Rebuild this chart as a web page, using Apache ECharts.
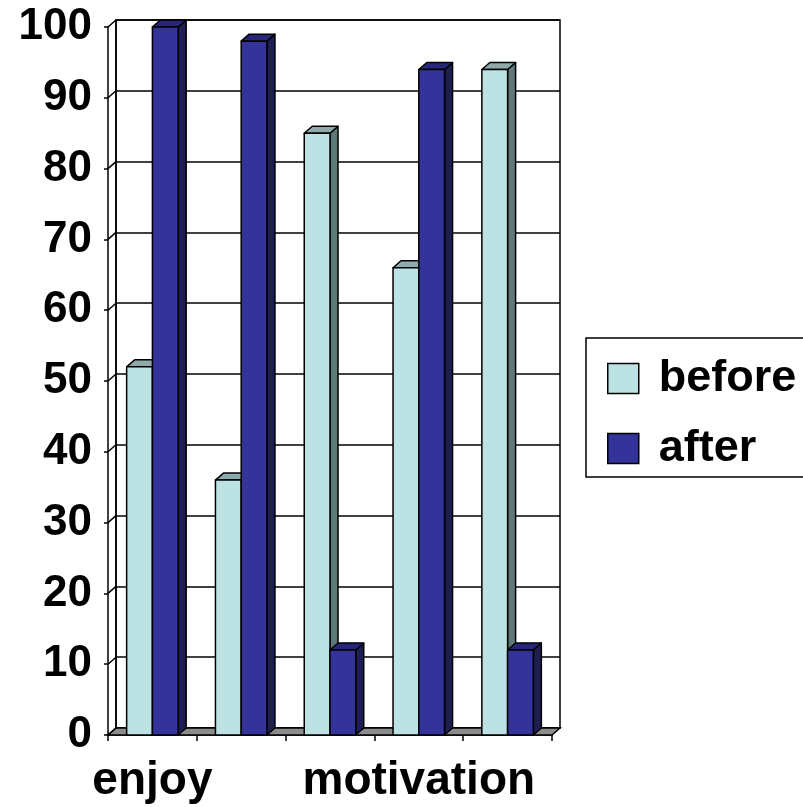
<!DOCTYPE html>
<html>
<head>
<meta charset="utf-8">
<script src="https://cdn.jsdelivr.net/npm/echarts@6/dist/echarts.min.js"></script>
<style>
html,body{margin:0;padding:0;background:#fff;overflow:hidden;}
#c{width:803px;height:807px;}
</style>
</head>
<body>
<div id="c"></div>
<script>
var categories = ['enjoy', '', '', 'motivation', ''];
var shownLabels = [0, 3];
var seriesNames = ['before', 'after'];
var beforeValues = [52, 36, 85, 66, 94];
var afterValues = [100, 98, 12, 94, 12];
var yTicks = [0, 10, 20, 30, 40, 50, 60, 70, 80, 90, 100];

var FONT = '"Liberation Sans", Arial, sans-serif';
var DX = 8, DY = -7;
var colors = [
  {front: '#bde2e4', top: '#8eaaab', side: '#5f7879'},
  {front: '#333399', top: '#27277a', side: '#1e1e52'}
];

function barRender(sIdx) {
  return function (params, api) {
    var cat = api.value(0), v = api.value(1);
    var topP = api.coord([cat, v]);
    var zeroP = api.coord([cat, 0]);
    var band = api.size([1, 0])[0];
    var w = band * 0.29;
    var xL = topP[0] - w + sIdx * w;
    var yT = topP[1], yB = zeroP[1];
    var c = colors[sIdx];
    var st = {stroke: '#000', lineWidth: 1.5, lineJoin: 'round'};
    return {
      type: 'group',
      children: [
        {type: 'polygon', shape: {points: [[xL + w, yT], [xL + w + DX, yT + DY], [xL + w + DX, yB + DY], [xL + w, yB]]},
          style: Object.assign({fill: c.side}, st)},
        {type: 'polygon', shape: {points: [[xL, yT], [xL + DX, yT + DY], [xL + w + DX, yT + DY], [xL + w, yT]]},
          style: Object.assign({fill: c.top}, st)},
        {type: 'rect', shape: {x: xL, y: yT, width: w, height: yB - yT},
          style: Object.assign({fill: c.front}, st)}
      ]
    };
  };
}

function toData(arr) {
  return arr.map(function (v, i) { return [i, v]; });
}

var chart = echarts.init(document.getElementById('c'), null, {renderer: 'canvas'});
chart.setOption({
  backgroundColor: '#fff',
  animation: false,
  grid: [
    {left: 108, top: 27, right: 251, bottom: 72},
    {left: 116, top: 20, right: 243, bottom: 79, show: true, borderColor: '#000', borderWidth: 1.5}
  ],
  xAxis: [
    {type: 'category', gridIndex: 0, data: categories,
      axisLine: {lineStyle: {color: '#000', width: 1.5}},
      axisTick: {show: true, interval: 0, length: 6, lineStyle: {color: '#000', width: 1.5}},
      axisLabel: {interval: function (i) { return shownLabels.indexOf(i) >= 0; },
        color: '#000', fontSize: 46, fontWeight: 'bold', fontFamily: FONT, margin: 23}},
    {type: 'category', gridIndex: 1, data: categories, show: false}
  ],
  yAxis: [
    {type: 'value', gridIndex: 0, min: 0, max: 100, interval: 10,
      axisLine: {show: true, lineStyle: {color: '#000', width: 1.5}},
      axisTick: {show: true, length: 4, lineStyle: {color: '#000', width: 1.5}},
      splitLine: {show: false},
      axisLabel: {color: '#000', fontSize: 44, fontWeight: 'bold', fontFamily: FONT, margin: 16}},
    {type: 'value', gridIndex: 1, min: 0, max: 100, interval: 10,
      axisLine: {show: true, lineStyle: {color: '#000', width: 1.5}},
      axisTick: {show: false}, axisLabel: {show: false},
      splitLine: {show: true, lineStyle: {color: '#000', width: 1.5}}}
  ],
  legend: {
    orient: 'vertical', left: 602, top: 351,
    icon: 'rect',
    itemWidth: 31, itemHeight: 30, itemGap: 25,
    data: seriesNames,
    itemStyle: {borderColor: '#000', borderWidth: 1.5},
    textStyle: {color: '#000', fontSize: 45, fontWeight: 'bold', fontFamily: FONT, lineHeight: 30, padding: [0, 0, 0, 15]}
  },
  graphic: [
    {type: 'polyline', shape: {points: [[830, 338], [586, 338], [586, 477], [830, 477]]},
      style: {fill: null, stroke: '#000', lineWidth: 1.5}, z: 100}
  ],
  series: [
    {type: 'custom', name: 'floor', xAxisIndex: 0, yAxisIndex: 0, z: 1, silent: true,
      data: [[0, 0]],
      renderItem: function (params, api) {
        var cs = params.coordSys;
        var yB = cs.y + cs.height, xL = cs.x, xR = cs.x + cs.width;
        return {type: 'polygon', shape: {points: [[xL, yB], [xR, yB], [xR + DX, yB + DY], [xL + DX, yB + DY]]},
          style: {fill: '#8c8c8c', stroke: '#000', lineWidth: 1.5}};
      }},
    {type: 'custom', name: 'ticklinks', xAxisIndex: 0, yAxisIndex: 0, z: 1, silent: true,
      data: yTicks.map(function (t) { return [0, t]; }),
      renderItem: function (params, api) {
        var cs = params.coordSys;
        var y = api.coord([0, api.value(1)])[1];
        return {type: 'line', shape: {x1: cs.x, y1: y, x2: cs.x + DX, y2: y + DY},
          style: {stroke: '#000', lineWidth: 1.5}};
      }},
    {type: 'custom', name: seriesNames[0], xAxisIndex: 0, yAxisIndex: 0, z: 3,
      itemStyle: {color: colors[0].front},
      data: toData(beforeValues), renderItem: barRender(0)},
    {type: 'custom', name: seriesNames[1], xAxisIndex: 0, yAxisIndex: 0, z: 4,
      itemStyle: {color: colors[1].front},
      data: toData(afterValues), renderItem: barRender(1)}
  ]
});
</script>
</body>
</html>
